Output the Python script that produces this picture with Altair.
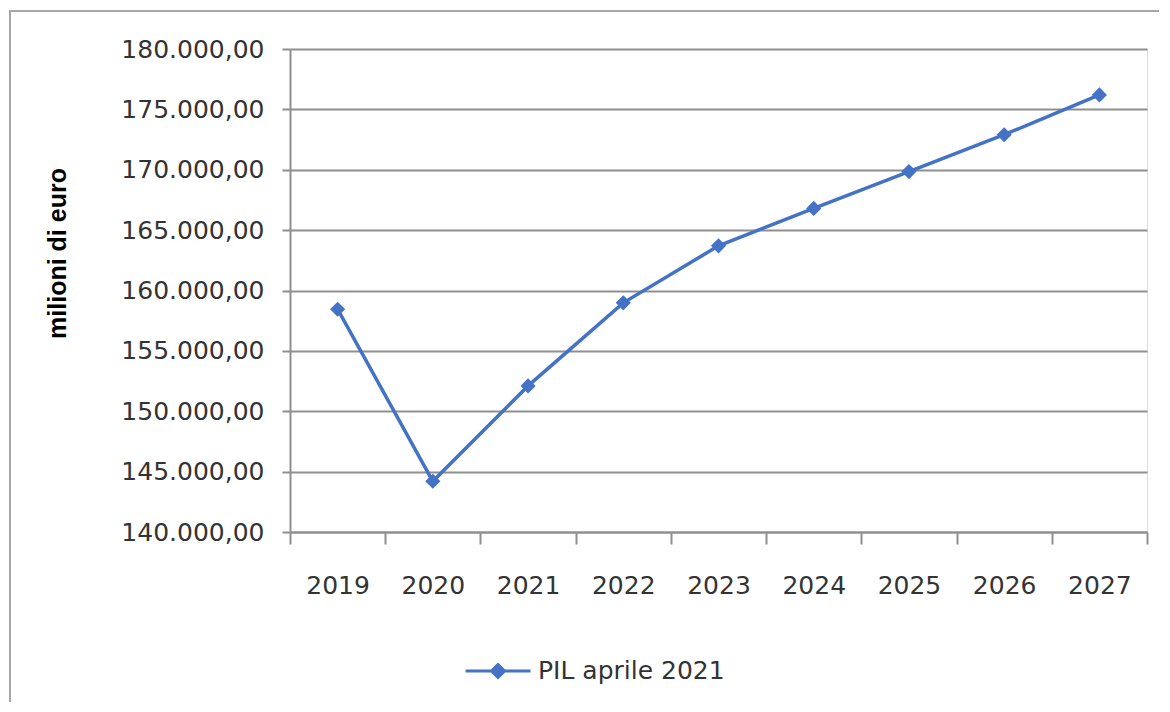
import altair as alt
import pandas as pd

years = ["2019", "2020", "2021", "2022", "2023", "2024", "2025", "2026", "2027"]
pil = [158450, 144200, 152100, 158980, 163700, 166800, 169850, 172900, 176200]
series_name = "PIL aprile 2021"
y_ticks = [140000, 145000, 150000, 155000, 160000, 165000, 170000, 175000, 180000]

df = pd.DataFrame({"anno": years, "valore": pil, "serie": [series_name] * len(years)})

BLUE = "#4472C4"
GRID = "#8f8f8f"
TEXT = "#333333"

base = alt.Chart(df)

frame = base.mark_rect(fill=None, stroke="#a6a6a6", strokeWidth=2).encode(
    x=alt.value(-280), x2=alt.value(920), y=alt.value(-38), y2=alt.value(700)
)

line = base.mark_line(strokeWidth=3.5, color=BLUE).encode(
    x=alt.X(
        "anno:O",
        sort=years,
        scale=alt.Scale(type="band", paddingInner=0, paddingOuter=0),
        axis=alt.Axis(
            title=None,
            labelAngle=0,
            tickBand="extent",
            tickSize=12,
            tickColor=GRID,
            tickWidth=2,
            domainColor=GRID,
            domainWidth=2,
            labelFont="DejaVu Sans",
            labelFontSize=25,
            labelColor=TEXT,
            labelPadding=29,
            grid=False,
        ),
    ),
    y=alt.Y(
        "valore:Q",
        scale=alt.Scale(domain=[140000, 180000], nice=False, zero=False),
        axis=alt.Axis(
            title="milioni di euro",
            titleFont="Liberation Sans",
            titleFontWeight="bold",
            titleFontSize=25,
            titleColor="#000000",
            titlePadding=50,
            titleY=204,
            values=y_ticks,
            labelExpr="replace(replace(replace(format(datum.value, ',.2f'), ',', '#'), '.', ','), '#', '.')",
            labelFont="DejaVu Sans",
            labelFontSize=25,
            labelColor=TEXT,
            labelPadding=18,
            tickSize=8,
            tickColor=GRID,
            tickWidth=2,
            domainColor=GRID,
            domainWidth=2,
            grid=True,
            gridColor=GRID,
            gridWidth=2,
        ),
    ),
    color=alt.Color(
        "serie:N",
        scale=alt.Scale(domain=[series_name], range=[BLUE]),
        legend=alt.Legend(
            title=None,
            orient="none",
            legendX=174,
            legendY=588,
            symbolType="M-1,0H1M0,-0.2L0.2,0L0,0.2L-0.2,0Z",
            symbolSize=4225,
            symbolStrokeWidth=3,
            symbolFillColor=BLUE,
            symbolStrokeColor=BLUE,
            labelFont="DejaVu Sans",
            labelFontSize=25,
            labelColor=TEXT,
            labelOffset=6,
            labelLimit=0,
        ),
    ),
)

points = base.mark_point(shape="diamond", filled=True, size=230, color=BLUE, opacity=1).encode(
    x=alt.X("anno:O", sort=years),
    y=alt.Y("valore:Q"),
)

chart = (
    alt.layer(frame, line, points)
    .properties(
        width=857,
        height=483,
        autosize=alt.AutoSizeParams(type="none"),
        padding={"left": 282, "top": 41, "right": 12, "bottom": 170},
    )
    .configure_view(stroke=None)
    .configure(background="white")
)

chart.save("out.html", embed_options={"renderer": "svg", "actions": False})
